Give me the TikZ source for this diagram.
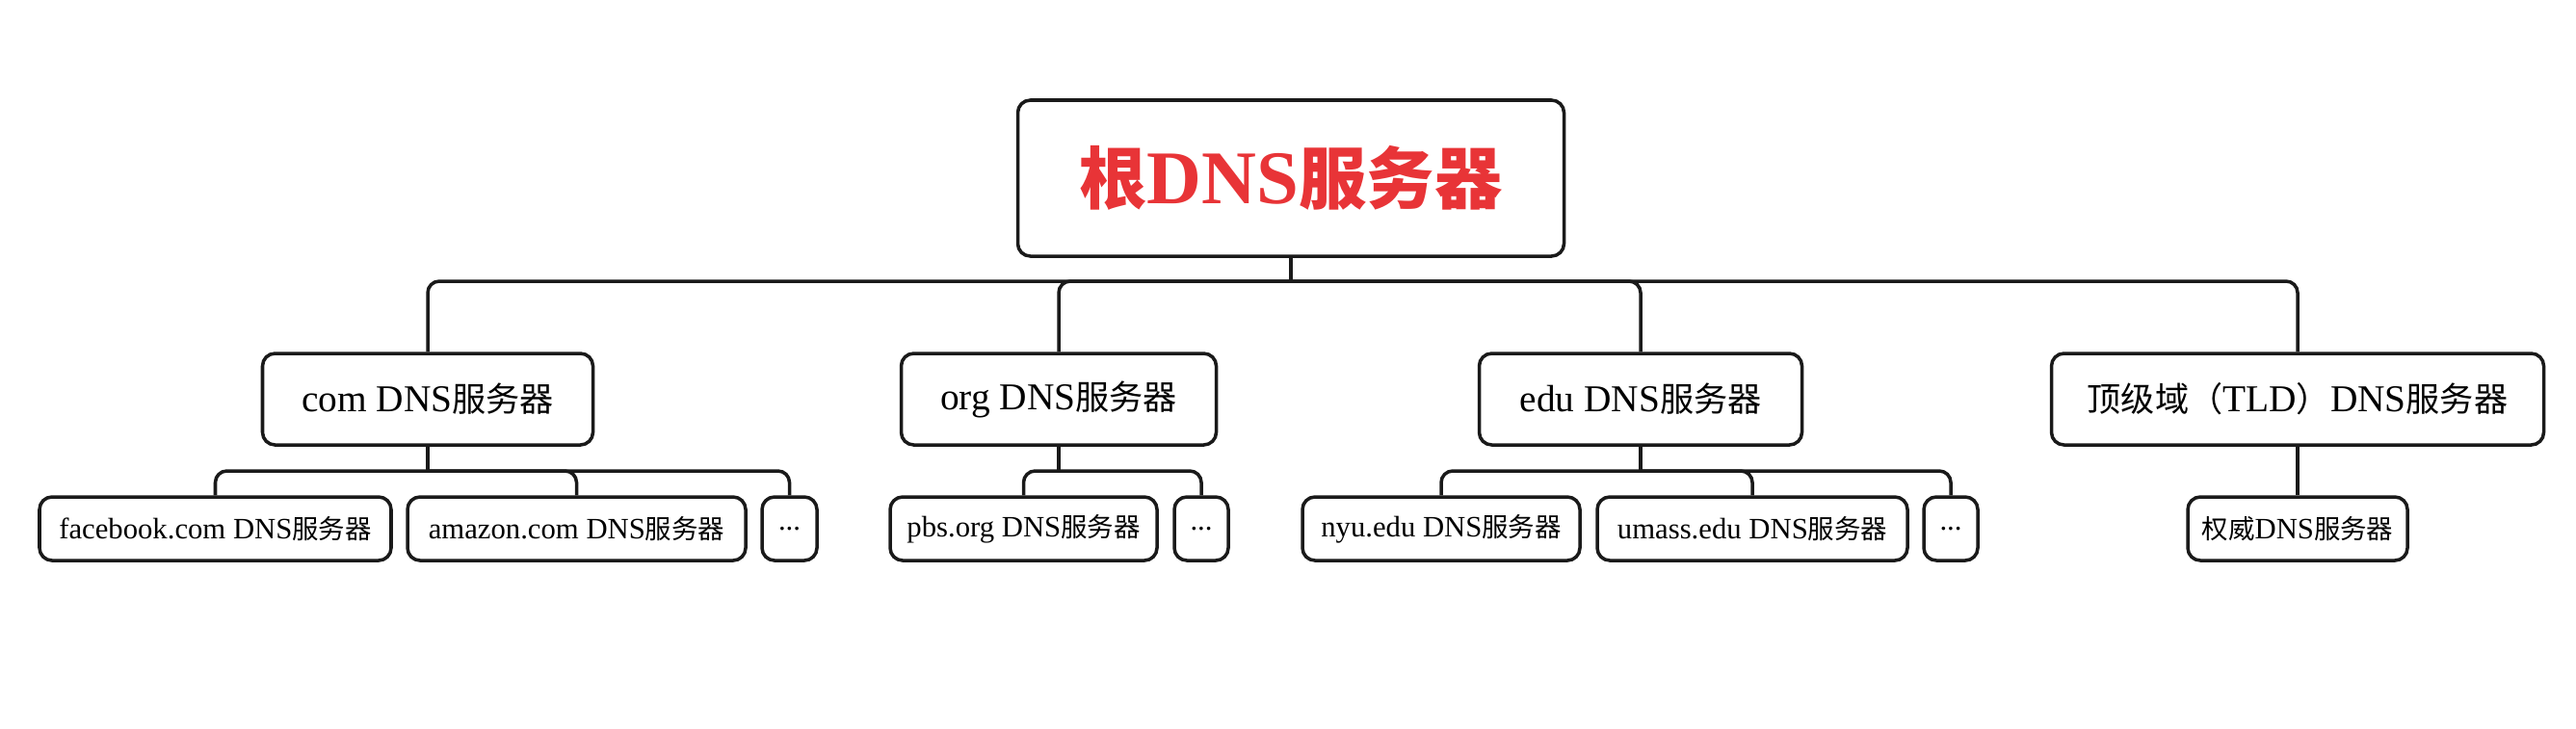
\documentclass[tikz,border=0pt]{standalone}
\usepackage{fontspec}
\setmainfont{Liberation Serif}[Scale=1.12]
\newfontfamily\cjk{Noto Sans CJK SC}
\newcommand{\zh}[1]{{\cjk #1}}
\definecolor{rootred}{RGB}{232,52,55}
\definecolor{linegray}{RGB}{26,26,26}
\tikzset{
  box/.style={draw=linegray, line width=1pt, rounded corners=0.13cm, align=center, inner sep=0pt},
  rootbox/.style={box, minimum width=5.67cm, minimum height=1.62cm, font=\fontsize{20}{24}\selectfont\bfseries, text=rootred},
  tldbox/.style={box, minimum height=0.95cm, font=\fontsize{10}{12}\selectfont},
  leafbox/.style={box, minimum height=0.66cm, font=\fontsize{7.8}{9}\selectfont},
  link/.style={draw=linegray, line width=1pt, rounded corners=0.12cm}
}

\begin{document}
\begin{tikzpicture}
        \useasboundingbox (0,0) rectangle (26.74,-7.56);
        
        \node[rootbox] (root) at (13.40,-1.85) {\zh{根}DNS\zh{服务器}};
        
        \node[tldbox, minimum width=3.43cm] (com) at (4.44,-4.145) {com DNS\zh{服务器}};
        \node[tldbox, minimum width=3.27cm] (org) at (10.99,-4.145) {org DNS\zh{服务器}};
        \node[tldbox, minimum width=3.35cm] (edu) at (17.03,-4.145) {edu DNS\zh{服务器}};
        \node[tldbox, minimum width=5.11cm] (tld) at (23.85,-4.145) {\zh{顶级域（}TLD\zh{）}DNS\zh{服务器}};
        
        \node[leafbox, minimum width=3.65cm] (facebook) at (2.235,-5.49) {facebook.com DNS\zh{服务器}};
        \node[leafbox, minimum width=3.51cm] (amazon) at (5.985,-5.49) {amazon.com DNS\zh{服务器}};
        \node[leafbox, minimum width=0.57cm] (comdots) at (8.195,-5.49) {...};
        \node[leafbox, minimum width=2.77cm] (pbs) at (10.625,-5.49) {pbs.org DNS\zh{服务器}};
        \node[leafbox, minimum width=0.56cm] (orgdots) at (12.47,-5.49) {...};
        \node[leafbox, minimum width=2.88cm] (nyu) at (14.96,-5.49) {nyu.edu DNS\zh{服务器}};
        \node[leafbox, minimum width=3.22cm] (umass) at (18.19,-5.49) {umass.edu DNS\zh{服务器}};
        \node[leafbox, minimum width=0.56cm] (edudots) at (20.25,-5.49) {...};
        \node[leafbox, minimum width=2.28cm] (auth) at (23.85,-5.49) {\zh{权威}DNS\zh{服务器}};
        
        % root to top level
        \coordinate (bus) at (13.40,-2.92);
        \draw[link] (root.south) -- (bus);
        \draw[link] (bus) -| (com.north);
        \draw[link] (bus) -| (org.north);
        \draw[link] (bus) -| (edu.north);
        \draw[link] (bus) -| (tld.north);
        
        % com
        \coordinate (combus) at (4.44,-4.89);
        \draw[link] (com.south) -- (combus);
        \draw[link] (combus) -| (facebook.north);
        \draw[link] (combus) -| (amazon.north);
        \draw[link] (combus) -| (comdots.north);
        
        % org
        \coordinate (orgbus) at (10.99,-4.89);
        \draw[link] (org.south) -- (orgbus);
        \draw[link] (orgbus) -| (pbs.north);
        \draw[link] (orgbus) -| (orgdots.north);
        
        % edu
        \coordinate (edubus) at (17.03,-4.89);
        \draw[link] (edu.south) -- (edubus);
        \draw[link] (edubus) -| (nyu.north);
        \draw[link] (edubus) -| (umass.north);
        \draw[link] (edubus) -| (edudots.north);
        
        % tld
        \draw[link] (tld.south) -- (auth.north);
\end{tikzpicture}
\end{document}
